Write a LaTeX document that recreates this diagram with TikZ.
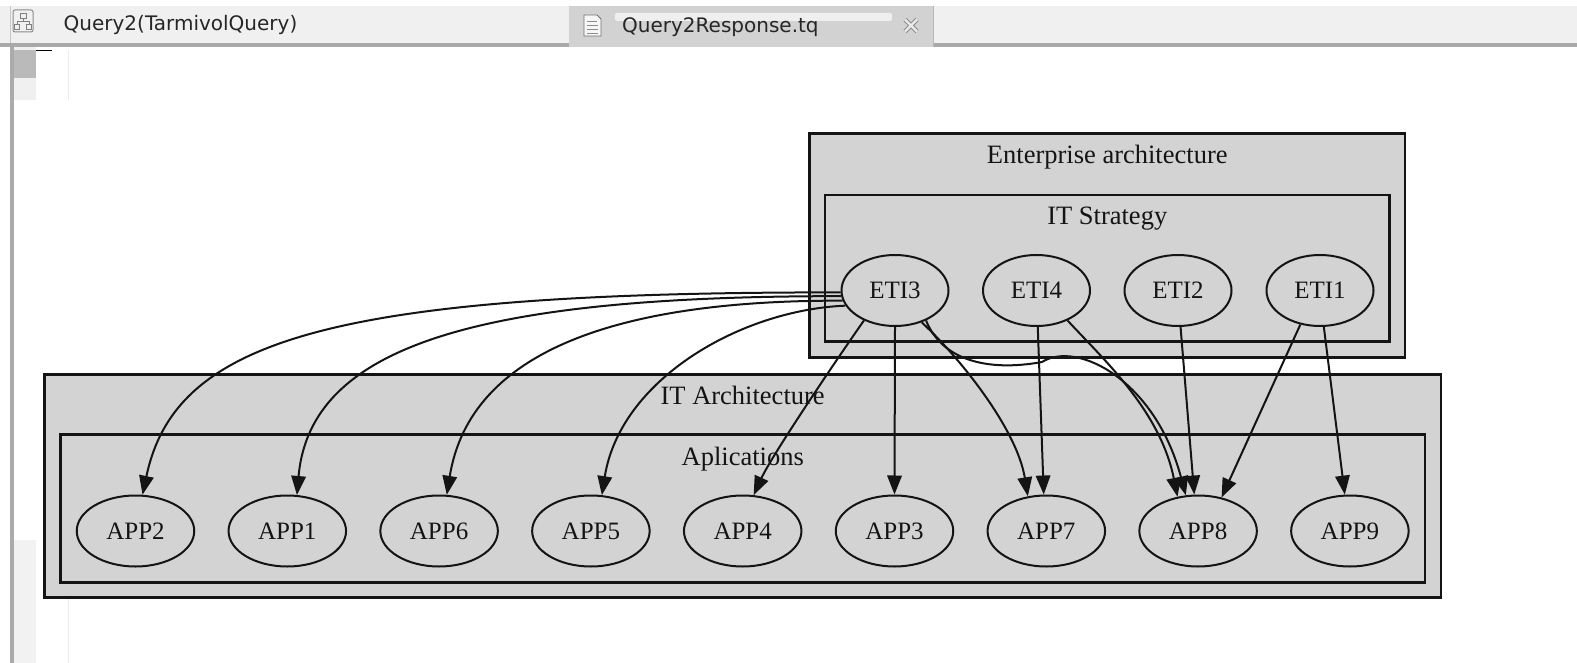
\documentclass[tikz,border=0pt]{standalone}
\usepackage{fontspec}
\setmainfont{Liberation Serif}
\newfontfamily\uifont{DejaVu Sans}
\usetikzlibrary{arrows.meta,shapes.geometric}
\definecolor{gvgray}{HTML}{D3D3D3}
\definecolor{tabbg}{HTML}{F0F0F0}
\definecolor{tabsel}{HTML}{D2D2D2}
\definecolor{tabline}{HTML}{A9A9A9}
\definecolor{ink}{HTML}{141414}
\begin{document}
\begin{tikzpicture}[x=1pt,y=-1pt,
  cluster/.style={draw=ink,line width=2.6pt,fill=gvgray,inner sep=0pt},
  ctitle/.style={font=\fontsize{26.5}{30}\selectfont,anchor=base,inner sep=0pt,text=ink},
  gnode/.style={ellipse,draw=ink,line width=2pt,fill=gvgray,inner sep=0pt,minimum height=71pt,font=\fontsize{25}{28}\selectfont,text=ink},
  eti/.style={gnode,minimum width=107pt},
  app/.style={gnode,minimum width=117.5pt},
  link/.style={draw=ink,line width=2pt,-{Triangle[length=19pt,width=14.5pt]}},
  uitext/.style={font=\uifont\fontsize{20}{24}\selectfont,anchor=base west,inner sep=0pt,text=black!85}]
\useasboundingbox (0,0) rectangle (1577,663);
\fill[white] (0,0) rectangle (1577,663);
% ---- tab bar
\fill[tabbg] (0,6) rectangle (1577,43);
\fill[tabline] (0,43) rectangle (1577,47);
\fill[tabsel] (569,6) rectangle (933,47);
\draw[black!22,line width=1pt] (10.5,6) -- (10.5,43);
\draw[black!28,line width=1pt] (933,6) -- (933,47);
\fill[white!65!tabsel,rounded corners=2pt] (615,13) rectangle (892,21);
% tab 1 icon
\draw[black!45,line width=1pt,rounded corners=2pt] (13,10) rectangle (33,32);
\draw[black!50,line width=0.8pt] (20,13) rectangle (26,18) (23,18) -- (23,21) (17,21) -- (29,21)
  (17,21) -- (17,24) (29,21) -- (29,24) (14.5,24) rectangle (19.5,29) (26.5,24) rectangle (31.5,29);
% tab 2 icon
\draw[black!55,line width=0.9pt,fill=white!80!tabsel] (584,15) -- (597,15) -- (601,19) -- (601,36) -- (584,36) -- cycle;
\draw[black!45,line width=0.8pt] (587,21) -- (597,21) (587,25) -- (598,25) (587,29) -- (598,29) (587,33) -- (598,33);
% close cross
\draw[black!45,line width=4.5pt] (905,19.5) -- (917,31.5) (917,19.5) -- (905,31.5);
\draw[white!92!black,line width=2.4pt] (905,19.5) -- (917,31.5) (917,19.5) -- (905,31.5);
\node[uitext] (tab1) at (63.5,31) {Query2(TarmivolQuery)};
\node[uitext] (tab2) at (622,33) {Query2Response.tq};
% ---- left strip
\fill[black!33] (10,47) rectangle (13.5,663);
\fill[black!6] (13.5,47) rectangle (36,100);
\fill[black!27] (13.5,50) rectangle (36,78);
\draw[black,line width=1.2pt] (36,50.5) -- (51.5,50.5);
\draw[black!8,line width=1pt] (68.5,50) -- (68.5,100);
\fill[black!5] (13.5,540) rectangle (36,663);
\draw[black!8,line width=1pt] (68.5,540) -- (68.5,663);
% ---- clusters
\node[cluster,minimum width=595.5pt,minimum height=224pt] (ea) at (1107.25,245.3) {};
\node[ctitle] (eatitle) at (1107.25,163.5) {Enterprise architecture};
\node[cluster,minimum width=564.5pt,minimum height=146.7pt] (its) at (1107.25,268.35) {};
\node[ctitle] (itstitle) at (1107.25,224.5) {IT Strategy};
\node[cluster,minimum width=1396.7pt,minimum height=223pt] (ita) at (742.65,485.8) {};
\node[ctitle] (itatitle) at (742.65,404) {IT Architecture};
\node[cluster,minimum width=1364.4pt,minimum height=148.4pt] (apps) at (742.8,508.5) {};
\node[ctitle] (appstitle) at (742.8,465) {Aplications};
% ---- nodes
\node[eti] (eti3) at (895,290.5) {ETI3};
\node[eti] (eti4) at (1036.5,290.5) {ETI4};
\node[eti] (eti2) at (1178,290.5) {ETI2};
\node[eti] (eti1) at (1320,290.5) {ETI1};
\node[app] (app2) at (135.5,531) {APP2};
\node[app] (app1) at (287.3,531) {APP1};
\node[app] (app6) at (439.1,531) {APP6};
\node[app] (app5) at (590.9,531) {APP5};
\node[app] (app4) at (742.7,531) {APP4};
\node[app] (app3) at (894.5,531) {APP3};
\node[app] (app7) at (1046.3,531) {APP7};
\node[app] (app8) at (1198.1,531) {APP8};
\node[app] (app9) at (1349.9,531) {APP9};
\coordinate (w1) at (1042,362);
% ---- edges
\draw[link] (eti3.182) .. controls (330,292) and (175,340) .. (app2.79);
\draw[link] (eti3.186) .. controls (480,296) and (310,345) .. (app1.75);
\draw[link] (eti3.191) .. controls (620,300) and (470,350) .. (app6.78);
\draw[link] (eti3.197) .. controls (740,310) and (620,380) .. (app5.73);
\draw[link] (eti3.224) .. controls (839,356) and (772,455) .. (app4.73);
\draw[link] (eti3.270) -- (app3.90);
\draw[link] (eti3.310) .. controls (962,360) and (1017,430) .. (app7.118);
\draw[link] (eti3.316) .. controls (942,360) and (987,372) .. (w1) .. controls (1077,340) and (1155,380) .. (app8.109);
\draw[link] (eti4.272) -- (app7.94);
\draw[link] (eti4.316) .. controls (1102,358) and (1160,410) .. (app8.121);
\draw[link] (eti2.274) -- (app8.96);
\draw[link] (eti1.240) -- (app8.55);
\draw[link] (eti1.276) -- (app9.98);
\end{tikzpicture}
\end{document}
